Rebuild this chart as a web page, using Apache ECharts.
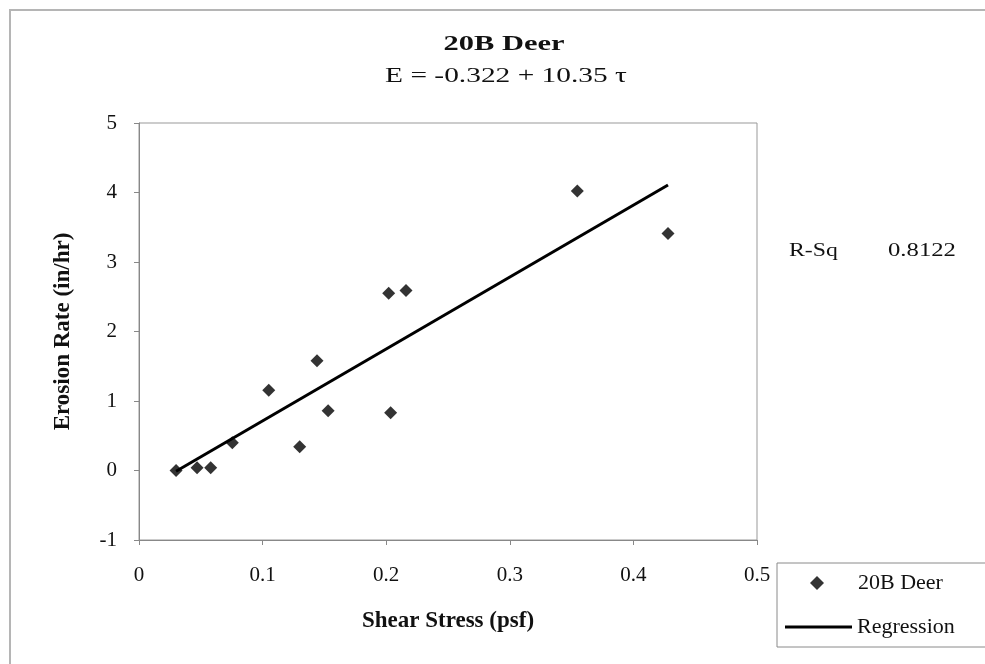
<!DOCTYPE html>
<html><head><meta charset="utf-8">
<script src="https://cdn.jsdelivr.net/npm/echarts@6/dist/echarts.min.js"></script>
<style>html,body{margin:0;padding:0;background:#fff}#c{width:985px;height:664px}</style>
</head><body><div id="c"></div>
<script>
var shearStress = [0.030, 0.047, 0.058, 0.0755, 0.105, 0.130, 0.144, 0.153, 0.202, 0.216, 0.2036, 0.3546, 0.428];
var erosionRate = [0.00, 0.04, 0.04, 0.40, 1.155, 0.34, 1.58, 0.86, 2.55, 2.59, 0.83, 4.02, 3.41];
var regressionX = [0.030, 0.428];
var intercept = -0.322, slope = 10.35;
var regressionY = [intercept + slope * regressionX[0], intercept + slope * regressionX[1]];
var xTicks = [0, 0.1, 0.2, 0.3, 0.4, 0.5];
var yTicks = [-1, 0, 1, 2, 3, 4, 5];

var font = "'Liberation Serif', 'Times New Roman', serif";
var chart = echarts.init(document.getElementById('c'), null, {renderer: 'canvas'});
function txt(text, x, y, size, bold, align, sx) {
  return {type: 'text', x: x, y: y, scaleX: sx, z: 10,
    style: {text: text, font: (bold ? 'bold ' : '') + size + 'px ' + font, fill: '#111',
      textAlign: align, textVerticalAlign: 'middle', align: align, verticalAlign: 'middle'}};
}
chart.setOption({
  animation: false,
  backgroundColor: '#fff',
  textStyle: {fontFamily: font, color: '#111'},
  graphic: [
    {type: 'rect', shape: {x: 10, y: 10, width: 1000, height: 700}, style: {fill: 'none', stroke: '#b5b5b5', lineWidth: 2}, z: -1},
    txt('20B Deer', 504, 45, 21, true, 'center', 1.45),
    txt('E = -0.322 + 10.35 \u03c4', 506, 77, 20, false, 'center', 1.47),
    txt('R-Sq', 789, 251, 19, false, 'left', 1.25),
    txt('0.8122', 888, 251, 19, false, 'left', 1.3),
    {type: 'rect', shape: {x: 777, y: 563, width: 230, height: 84}, style: {fill: '#fff', stroke: '#8a8a8a', lineWidth: 1}, z: 1}
  ],
  grid: {left: 139, top: 123, right: 228, bottom: 124, show: true, borderColor: '#999', borderWidth: 1},
  legend: [
    {left: 810, top: 572, padding: 0, itemWidth: 14, itemHeight: 14,
      textStyle: {fontFamily: font, fontSize: 22, color: '#111', padding: [0, 0, 0, 29]},
      data: [{name: '20B Deer', icon: 'diamond', itemStyle: {color: '#000'}}], z: 5},
    {left: 785, top: 616, padding: 0, itemWidth: 67, itemHeight: 3,
      textStyle: {fontFamily: font, fontSize: 22, color: '#111', padding: [0, 0, 0, 0]},
      data: [{name: 'Regression', icon: 'rect', itemStyle: {color: '#000'}}], z: 5}
  ],
  xAxis: {
    type: 'value', min: 0, max: 0.5, interval: 0.1,
    axisLine: {show: true, onZero: false, lineStyle: {color: '#888'}},
    axisTick: {show: true, length: 5, lineStyle: {color: '#888'}},
    splitLine: {show: false},
    axisLabel: {fontFamily: font, fontSize: 21, color: '#111', margin: 25,
      formatter: function (v) { return xTicks.indexOf(+v.toFixed(1)) >= 0 ? String(+v.toFixed(1)) : ''; }},
    name: 'Shear Stress (psf)', nameLocation: 'middle', nameGap: 70,
    nameTextStyle: {fontFamily: font, fontSize: 23, fontWeight: 'bold', color: '#111'}
  },
  yAxis: {
    type: 'value', min: -1, max: 5, interval: 1,
    axisLine: {show: true, onZero: false, lineStyle: {color: '#888'}},
    axisTick: {show: true, length: 5, lineStyle: {color: '#888'}},
    splitLine: {show: false},
    axisLabel: {fontFamily: font, fontSize: 21, color: '#111', margin: 22,
      formatter: function (v) { return yTicks.indexOf(v) >= 0 ? String(v) : ''; }},
    name: 'Erosion Rate (in/hr)', nameLocation: 'middle', nameGap: 64, nameRotate: 90,
    nameTextStyle: {fontFamily: font, fontSize: 23, fontWeight: 'bold', color: '#111'}
  },
  series: [
    {name: '20B Deer', type: 'scatter', symbol: 'diamond', symbolSize: 13,
      itemStyle: {color: '#000'},
      data: shearStress.map(function (x, i) { return [x, erosionRate[i]]; })},
    {name: 'Regression', type: 'line', symbol: 'none', lineStyle: {color: '#000', width: 3},
      itemStyle: {color: '#000'},
      data: regressionX.map(function (x, i) { return [x, regressionY[i]]; })}
  ]
});
</script></body></html>
